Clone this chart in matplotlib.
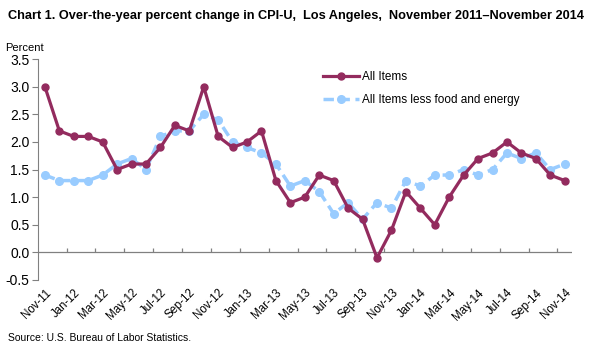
import matplotlib
matplotlib.use("Agg")
import matplotlib.pyplot as plt
import numpy as np

plt.rcParams['font.family'] = ['Liberation Sans', 'DejaVu Sans']

months = ["Nov-11","Dec-11","Jan-12","Feb-12","Mar-12","Apr-12","May-12","Jun-12","Jul-12","Aug-12",
          "Sep-12","Oct-12","Nov-12","Dec-12","Jan-13","Feb-13","Mar-13","Apr-13","May-13","Jun-13",
          "Jul-13","Aug-13","Sep-13","Oct-13","Nov-13","Dec-13","Jan-14","Feb-14","Mar-14","Apr-14",
          "May-14","Jun-14","Jul-14","Aug-14","Sep-14","Oct-14","Nov-14"]
all_items = [3.0,2.2,2.1,2.1,2.0,1.5,1.6,1.6,1.9,2.3,
             2.2,3.0,2.1,1.9,2.0,2.2,1.3,0.9,1.0,1.4,
             1.3,0.8,0.6,-0.1,0.4,1.1,0.8,0.5,1.0,1.4,
             1.7,1.8,2.0,1.8,1.7,1.4,1.3]
core = [1.4,1.3,1.3,1.3,1.4,1.6,1.7,1.5,2.1,2.2,
        2.2,2.5,2.4,2.0,1.9,1.8,1.6,1.2,1.3,1.1,
        0.7,0.9,0.6,0.9,0.8,1.3,1.2,1.4,1.4,1.5,
        1.4,1.5,1.8,1.7,1.8,1.5,1.6]
yticks = [-0.5,0.0,0.5,1.0,1.5,2.0,2.5,3.0,3.5]

red = '#932B5E'
blue = '#99CCFF'
gray = '#808080'

fig = plt.figure(figsize=(5.89, 3.46), dpi=100)
ax = fig.add_axes([0.064, 0.191, 0.907, 0.638])
x = np.arange(len(months))

ax.plot(x, core, color=blue, lw=2.5, ls=(0, (3, 1.6)), marker='o', ms=5.5,
        markeredgecolor=blue, label='All Items less food and energy', zorder=3)
ax.plot(x, all_items, color=red, lw=2.3, marker='o', ms=5,
        markeredgecolor=red, label='All Items', zorder=4)

ax.set_xlim(-0.5, len(months) - 0.5)
ax.set_ylim(-0.5, 3.5)
ax.set_yticks(yticks)
ax.set_yticklabels([f"{v:.1f}" for v in yticks], fontsize=10)
ax.set_xticks(x[::2])
ax.set_xticklabels(months[::2], rotation=45, ha='right', rotation_mode='anchor', fontsize=8.3)
ax.tick_params(axis='x', length=0, pad=5)
ax.tick_params(axis='y', length=4, color=gray, width=0.8, pad=2)

for s in ['top', 'right', 'bottom']:
    ax.spines[s].set_visible(False)
ax.spines['left'].set_color(gray)
ax.axhline(0, color=gray, lw=0.9, zorder=1)
tickpos = np.arange(1.5, len(months) - 0.5, 2)
ax.vlines(tickpos, 0, 0.075, color=gray, lw=0.9, zorder=1)

h, l = ax.get_legend_handles_labels()
ax.legend(h[::-1], l[::-1], loc='upper left', bbox_to_anchor=(0.515, 0.995), frameon=False,
          fontsize=8.5, handlelength=3.0, labelspacing=0.95, handletextpad=0.3)

fig.text(0.014, 0.955, "Chart 1. Over-the-year percent change in CPI-U,  Los Angeles,  November 2011\u2013November 2014",
         fontsize=9.2, fontweight='bold', va='center', ha='left')
fig.text(0.008, 0.862, "Percent", fontsize=8, va='center', ha='left')
fig.text(0.014, 0.022, "Source: U.S. Bureau of Labor Statistics.", fontsize=7.5, va='center', ha='left')

fig.savefig("out.png", dpi=100)
